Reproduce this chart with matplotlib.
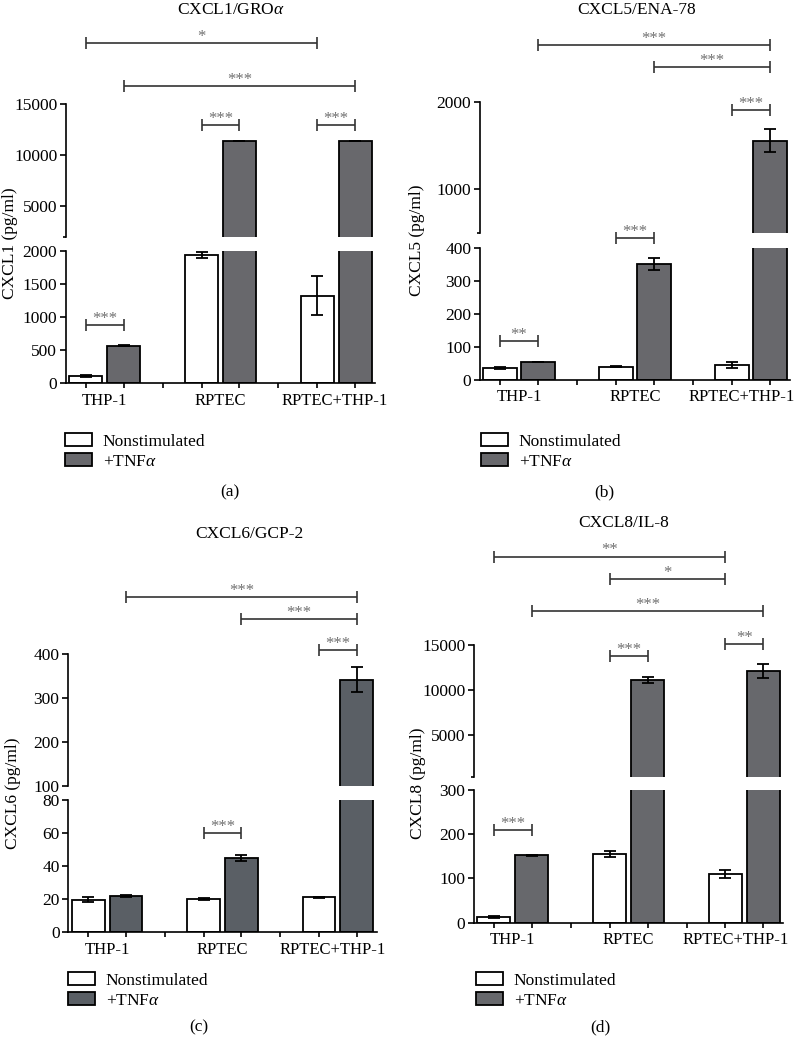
import numpy as np
import matplotlib
matplotlib.use("Agg")
import matplotlib.pyplot as plt
from matplotlib.patches import Patch

plt.rcParams['font.family'] = 'Liberation Serif'
plt.rcParams['mathtext.fontset'] = 'custom'
plt.rcParams['mathtext.rm'] = 'Liberation Serif'
plt.rcParams['mathtext.it'] = 'Liberation Serif:italic'

W, H = 798, 1042

groups = ['THP-1', 'RPTEC', 'RPTEC+THP-1']
legend_labels = ['Nonstimulated', r'+TNF$\alpha$']

# CXCL1/GROa
cxcl1_ns = [110, 1940, 1320]
cxcl1_ns_err = [15, 45, 290]
cxcl1_tnf = [565, 11330, 11330]
cxcl1_tnf_err = [10, 0, 0]
# bars: 0 THP-1 ns, 1 THP-1 tnf, 2 RPTEC ns, 3 RPTEC tnf, 4 co ns, 5 co tnf
cxcl1_sig = [(0, 4, 21000, '*'), (1, 5, 16800, '***'), (2, 3, 12900, '***'), (4, 5, 12900, '***')]
cxcl1_sig_low = [(0, 1, 880, '***')]

# CXCL5/ENA-78
cxcl5_ns = [37, 40, 45]
cxcl5_ns_err = [3, 2, 8]
cxcl5_tnf = [54, 352, 1557]
cxcl5_tnf_err = [1, 17, 130]
cxcl5_sig = [(1, 5, 2650, '***'), (3, 5, 2400, '***'), (4, 5, 1905, '***')]
cxcl5_sig_low = [(2, 3, 432, '***'), (0, 1, 117, '**')]

# CXCL6/GCP-2
cxcl6_ns = [19.5, 20.2, 21]
cxcl6_ns_err = [1.5, 0.6, 0.4]
cxcl6_tnf = [21.8, 45, 342]
cxcl6_tnf_err = [0.7, 1.8, 29]
cxcl6_sig = [(1, 5, 530, '***'), (3, 5, 480, '***'), (4, 5, 410, '***')]
cxcl6_sig_low = [(2, 3, 60, '***')]

# CXCL8/IL-8
cxcl8_ns = [13, 155, 110]
cxcl8_ns_err = [2, 6, 10]
cxcl8_tnf = [152, 11100, 12090]
cxcl8_tnf_err = [1.5, 370, 760]
cxcl8_sig = [(0, 4, 24750, '**'), (2, 4, 22240, '*'), (1, 5, 18760, '***'),
             (4, 5, 15080, '**'), (2, 3, 13750, '***')]
cxcl8_sig_low = [(0, 1, 210, '***')]

fig = plt.figure(figsize=(W / 100, H / 100), dpi=100)

GS = 3.05      # distance between group centres (in bar pitch units)
BW = 0.87      # bar width


def add_px_axes(x0, x1, ytop, ybot):
    return fig.add_axes([x0 / W, 1 - ybot / H, (x1 - x0) / W, (ybot - ytop) / H])


def bracket(ax, pos, i, j, y, stars):
    ax.plot([pos[i], pos[j]], [y, y], color='#333333', lw=1.2, marker='|',
            ms=8, mew=1.2, clip_on=False, solid_capstyle='butt')
    ax.annotate(stars, ((pos[i] + pos[j]) / 2, y), xytext=(0, 1.5),
                textcoords='offset points', ha='center', va='baseline',
                fontsize=12, color='#707070', annotation_clip=False)


def draw_bars(ax, x, vals, errs, color, floor):
    x = np.asarray(x)
    vals = np.asarray(vals, dtype=float)
    errs = np.asarray(errs, dtype=float)
    keep = vals > floor
    ax.bar(x[keep], vals[keep], BW, color=color, edgecolor='black', lw=1.3, zorder=2)
    ax.errorbar(x[keep], vals[keep], yerr=errs[keep], fmt='none', ecolor='black',
                elinewidth=1.3, capsize=4.3, capthick=1.3, zorder=3)


def panel(xpx, up_px, low_px, up_lim, low_lim, up_ticks, low_ticks,
          ns, ns_err, tnf, tnf_err, grey, sig, sig_low,
          title, title_xy, ylabel, ylabel_x, legend_xy, letter, letter_xy,
          last_shift=0.0):
    gc = np.arange(len(groups)) * GS
    x_ns = gc - 0.5
    x_tnf = gc + 0.5
    pos = []
    for a, b in zip(x_ns, x_tnf):
        pos += [a, b]
    xlim = (-0.5 - BW / 2 - 0.09, gc[-1] + 0.5 + BW / 2 + 0.09)

    ax_up = add_px_axes(xpx[0], xpx[1], up_px[0], up_px[1])
    ax_lo = add_px_axes(xpx[0], xpx[1], low_px[0], low_px[1])

    draw_bars(ax_up, x_ns, ns, ns_err, 'white', up_lim[0])
    draw_bars(ax_up, x_tnf, tnf, tnf_err, grey, up_lim[0])
    draw_bars(ax_lo, x_ns, ns, ns_err, 'white', -1)
    draw_bars(ax_lo, x_tnf, tnf, tnf_err, grey, -1)

    for ax in (ax_up, ax_lo):
        ax.set_xlim(*xlim)
        ax.patch.set_visible(False)
        for s in ('top', 'right'):
            ax.spines[s].set_visible(False)
        ax.spines['left'].set_linewidth(1.2)
        ax.tick_params(axis='y', length=4.3, width=1.2, pad=2, labelsize=12.5)

    ax_up.set_ylim(*up_lim)
    ax_up.set_yticks(up_ticks)
    ax_up.set_yticks([up_lim[0]], minor=True)
    ax_up.tick_params(axis='y', which='minor', length=2, width=1.2)
    ax_up.spines['bottom'].set_visible(False)
    ax_up.set_xticks([])

    ax_lo.set_ylim(*low_lim)
    ax_lo.set_yticks(low_ticks)
    ax_lo.spines['bottom'].set_linewidth(1.2)
    seps = (gc[:-1] + gc[1:]) / 2
    ax_lo.set_xticks(list(pos) + list(seps))
    ax_lo.set_xticklabels([])
    ax_lo.tick_params(axis='x', which='major', length=3.6, width=1.2)
    label_pos = gc.copy()
    label_pos[-1] += last_shift   # long label nudged left like in the figure
    ax_lo.set_xticks(label_pos, groups, minor=True)
    ax_lo.tick_params(axis='x', which='minor', length=0, pad=7, labelsize=12)

    for i, j, y, s in sig:
        bracket(ax_up, pos, i, j, y, s)
    for i, j, y, s in sig_low:
        bracket(ax_lo, pos, i, j, y, s)

    fig.text(title_xy[0] / W, 1 - title_xy[1] / H, title, ha='center',
             va='center', fontsize=12.5)
    ymid = (up_px[0] + low_px[1]) / 2
    fig.text(ylabel_x / W, 1 - ymid / H, ylabel, rotation=90, ha='center',
             va='center', fontsize=12.5)
    fig.text(letter_xy[0] / W, 1 - letter_xy[1] / H, letter, ha='center',
             va='center', fontsize=12.5)

    handles = [Patch(facecolor='white', edgecolor='black', lw=1.3),
               Patch(facecolor=grey, edgecolor='black', lw=1.3)]
    ax_lo.legend(handles, legend_labels, loc='upper left',
                 bbox_to_anchor=(legend_xy[0] / W, 1 - legend_xy[1] / H),
                 bbox_transform=fig.transFigure, frameon=False, fontsize=12.5,
                 handlelength=1.58, handleheight=0.78, handletextpad=0.6,
                 borderpad=0, borderaxespad=0, labelspacing=0.2)


panel((66, 375), (104, 236.6), (250.7, 383), (2000, 15000), (0, 2000),
      [5000, 10000, 15000], [0, 500, 1000, 1500, 2000],
      cxcl1_ns, cxcl1_ns_err, cxcl1_tnf, cxcl1_tnf_err, '#68686c',
      cxcl1_sig, cxcl1_sig_low, r'CXCL1/GRO$\alpha$', (231, 10),
      'CXCL1 (pg/ml)', 10, (65, 433), '(a)', (230, 492), last_shift=-0.05)

panel((480, 790), (101.7, 233.3), (248.3, 379.7), (500, 2000), (0, 400),
      [1000, 2000], [0, 100, 200, 300, 400],
      cxcl5_ns, cxcl5_ns_err, cxcl5_tnf, cxcl5_tnf_err, '#68686c',
      cxcl5_sig, cxcl5_sig_low, 'CXCL5/ENA-78', (637, 10),
      'CXCL5 (pg/ml)', 417, (481, 433), '(b)', (604, 492), last_shift=-0.25)

panel((68.3, 376.7), (654.3, 786), (800, 932), (100, 400), (0, 80),
      [100, 200, 300, 400], [0, 20, 40, 60, 80],
      cxcl6_ns, cxcl6_ns_err, cxcl6_tnf, cxcl6_tnf_err, '#5a5f65',
      cxcl6_sig, cxcl6_sig_low, 'CXCL6/GCP-2', (249, 534),
      'CXCL6 (pg/ml)', 13, (68, 972), '(c)', (199, 1027), last_shift=-0.15)

panel((474, 783.3), (644.7, 776.7), (790, 922.7), (400, 15000), (0, 300),
      [5000, 10000, 15000], [0, 100, 200, 300],
      cxcl8_ns, cxcl8_ns_err, cxcl8_tnf, cxcl8_tnf_err, '#67686c',
      cxcl8_sig, cxcl8_sig_low, 'CXCL8/IL-8', (624, 523),
      'CXCL8 (pg/ml)', 418, (476, 972), '(d)', (600, 1027), last_shift=-0.23)

fig.savefig('out.png', dpi=100)
